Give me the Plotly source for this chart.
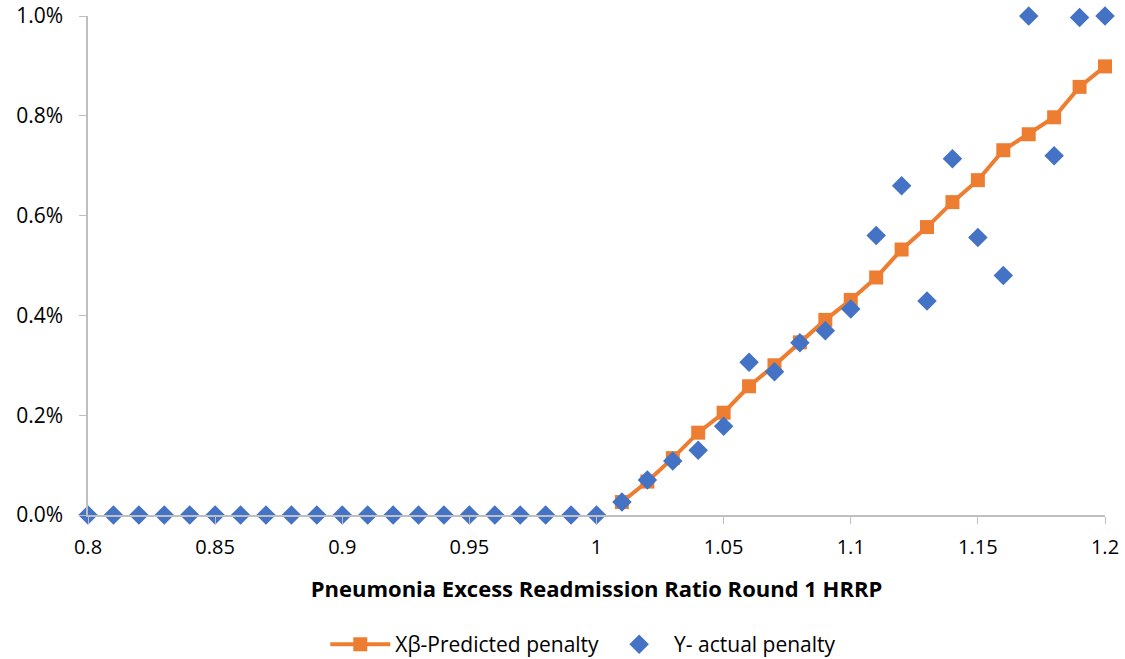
import plotly.graph_objects as go

# Excess readmission ratio grid
ratio_actual = [0.80, 0.81, 0.82, 0.83, 0.84, 0.85, 0.86, 0.87, 0.88, 0.89,
                0.90, 0.91, 0.92, 0.93, 0.94, 0.95, 0.96, 0.97, 0.98, 0.99,
                1.00, 1.01, 1.02, 1.03, 1.04, 1.05, 1.06, 1.07, 1.08, 1.09,
                1.10, 1.11, 1.12, 1.13, 1.14, 1.15, 1.16, 1.17, 1.18, 1.19, 1.20]
actual_penalty = [0.0] * 21 + [
    0.00026, 0.00070, 0.00108, 0.00130, 0.00178, 0.00306, 0.00287, 0.00345,
    0.00369, 0.00413, 0.00560, 0.00660, 0.00429, 0.00714, 0.00556, 0.00480,
    0.01000, 0.00720, 0.00997, 0.01000]

ratio_pred = [1.01, 1.02, 1.03, 1.04, 1.05, 1.06, 1.07, 1.08, 1.09, 1.10,
              1.11, 1.12, 1.13, 1.14, 1.15, 1.16, 1.17, 1.18, 1.19, 1.20]
predicted_penalty = [0.00026, 0.00067, 0.00114, 0.00165, 0.00205, 0.00258,
                     0.00300, 0.00346, 0.00391, 0.00431, 0.00476, 0.00532,
                     0.00577, 0.00627, 0.00671, 0.00731, 0.00763, 0.00797,
                     0.00858, 0.00899]

x_ticks = [0.8, 0.85, 0.9, 0.95, 1.0, 1.05, 1.1, 1.15, 1.2]
x_tick_labels = ["0.8", "0.85", "0.9", "0.95", "1", "1.05", "1.1", "1.15", "1.2"]
y_ticks = [0, 0.002, 0.004, 0.006, 0.008, 0.01]

FONT = "'Open Sans', sans-serif"
AXIS_GREY = "#bfbfbf"

fig = go.Figure()
fig.add_trace(go.Scatter(
    x=ratio_pred, y=predicted_penalty, mode="lines+markers",
    name="Xβ-Predicted penalty",
    line=dict(color="#ED7D31", width=4),
    marker=dict(symbol="square", size=14, color="#ED7D31"),
    cliponaxis=False,
))
fig.add_trace(go.Scatter(
    x=ratio_actual, y=actual_penalty, mode="markers",
    name="Y- actual penalty",
    marker=dict(symbol="diamond", size=15, color="#4472C4"),
    cliponaxis=False,
))

fig.update_layout(
    width=1125, height=659,
    margin=dict(l=88, r=20, t=16, b=144),
    paper_bgcolor="white", plot_bgcolor="white",
    font=dict(family=FONT, size=20, color="#000000"),
    showlegend=True,
    legend=dict(orientation="h", x=0.487, xanchor="center",
                yref="container", y=0.022, yanchor="middle",
                font=dict(size=21), itemwidth=60, traceorder="normal"),
    xaxis=dict(
        range=[0.8, 1.2], tickvals=x_ticks, ticktext=x_tick_labels,
        showgrid=False, zeroline=False, showline=True, linecolor=AXIS_GREY,
        linewidth=1.5, ticks="outside", ticklen=7, tickcolor=AXIS_GREY,
        tickfont=dict(size=20), automargin=False, ticklabelstandoff=6,
        title=dict(text="<b>Pneumonia Excess Readmission Ratio Round 1 HRRP</b>",
                   font=dict(size=22), standoff=23),
    ),
    yaxis=dict(
        range=[0, 0.01], tickvals=y_ticks,
        tickformat=".1%", showgrid=False, zeroline=False, showline=True,
        linecolor=AXIS_GREY, linewidth=1.5, ticks="outside", ticklen=7,
        tickcolor=AXIS_GREY, tickfont=dict(size=21), automargin=False,
        ticklabelstandoff=12,
    ),
)

fig.write_html("out.html")
